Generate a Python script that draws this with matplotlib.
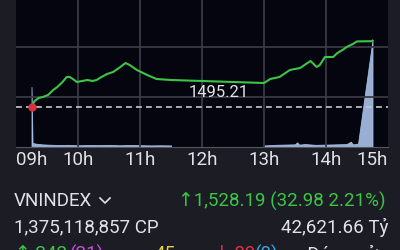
import matplotlib.pyplot as plt
from matplotlib.lines import Line2D

# index line (minutes after 09:00, points)
idx_min = [15, 18, 22, 26, 31, 36, 40, 45, 49, 52, 55, 59, 64, 69, 74, 78, 81, 88, 94,
           101, 106, 110, 117, 127, 136, 150, 240, 246, 255, 265, 275, 282, 285,
           291, 294, 299, 307, 311, 316, 320, 326, 330, 344, 345]
idx_val = [1495.21, 1498.0, 1499.5, 1500.0, 1501.0, 1503.5, 1505.0, 1507.5, 1510.0,
           1510.0, 1509.0, 1507.5, 1508.0, 1508.5, 1508.0, 1508.5, 1509.5, 1511.5,
           1512.5, 1515.0, 1517.0, 1516.0, 1513.5, 1511.0, 1509.0, 1508.5, 1507.0,
           1509.0, 1510.0, 1513.5, 1514.5, 1517.0, 1518.0, 1515.0, 1516.0, 1520.0,
           1520.0, 1522.0, 1523.5, 1525.0, 1526.5, 1527.8, 1527.9, 1528.19]
ref_value = 1495.21

# volume (million shares per minute)
vol_am_min = [15, 15, 16, 20, 25, 30, 40, 50, 60, 70, 80, 90, 100, 110, 120, 130, 140, 150, 150]
vol_am = [0, 45, 3.0, 2.4, 2.0, 1.8, 1.5, 1.6, 1.3, 1.5, 1.4, 1.6, 1.3, 1.5, 1.4, 1.2, 1.3, 1.2, 0]
vol_pm_min = [240, 240, 250, 260, 270, 272, 274, 280, 290, 300, 310, 320, 324, 326, 331, 345, 345]
vol_pm = [0, 1.2, 1.6, 1.8, 2.0, 3.5, 1.8, 2.2, 1.6, 1.8, 2.0, 2.2, 4.0, 2.0, 2.5, 80, 0]

hour_pos = [15, 60, 120, 180, 240, 300, 345]
hour_lbl = ['09h', '10h', '11h', '12h', '13h', '14h', '15h']

BG = '#1c1c25'
PLOT_BG = '#05050f'
GRID = '#3a3a44'
TXT = '#e2e2e6'
GREEN = '#3cc447'
FONT = ['Roboto', 'DejaVu Sans']

plt.rcParams['font.family'] = FONT

fig = plt.figure(figsize=(4, 2.5), dpi=100, facecolor=BG)
ax = fig.add_axes([16 / 400, 1 - 147 / 250, 372 / 400, 147 / 250])
ax.set_facecolor(PLOT_BG)
ax.set_xlim(0, 360)
ax.set_ylim(1475, 1548.5)

for x in [60, 120, 180, 240, 300]:
    ax.axvline(x, color=GRID, lw=1.3, zorder=0)
for y in [1500, 1525]:
    ax.axhline(y, color=GRID, lw=1.3, zorder=0)

# volume on its own scale
vax = ax.twinx()
vax.set_ylim(0, 80 * 147 / 107)
vax.fill_between(vol_am_min, vol_am, color='#a9c3ea', alpha=0.9, lw=0.6, zorder=1)
vax.fill_between(vol_pm_min, vol_pm, color='#a9c3ea', alpha=0.9, lw=0.6, zorder=1)
vax.set_yticks([])
for s in vax.spines.values():
    s.set_visible(False)

ax.set_zorder(vax.get_zorder() + 1)
ax.patch.set_visible(False)
vax.patch.set_visible(True)
vax.patch.set_facecolor(PLOT_BG)

ax.axhline(ref_value, color='#c8c8cc', lw=1.2, ls=(0, (3.5, 2.5)), zorder=2)
ax.plot(idx_min, idx_val, color=GREEN, lw=1.5, zorder=3)
ax.plot(idx_min[0], idx_val[0], 'o', color='#d8323c', ms=5, zorder=4)
ax.text(196, ref_value + 3.2, f'{ref_value:.2f}', color=TXT, fontsize=12,
        ha='center', va='bottom', zorder=5)

ax.set_yticks([])
ax.set_xticks(hour_pos)
ax.set_xticklabels(hour_lbl, color=TXT, fontsize=13.5)
ax.tick_params(axis='x', length=0, pad=3)
for s in ax.spines.values():
    s.set_visible(False)
ax.spines['bottom'].set_visible(True)
ax.spines['bottom'].set_color('#55555e')


def ftext(x, y, s, **kw):
    kw.setdefault('fontsize', 13.5)
    kw.setdefault('color', TXT)
    kw.setdefault('va', 'center')
    fig.text(x / 400, 1 - y / 250, s, **kw)


ftext(14, 201, 'VNINDEX')
fig.add_artist(Line2D([100 / 400, 105 / 400, 110 / 400],
                      [1 - 198 / 250, 1 - 203 / 250, 1 - 198 / 250],
                      color=TXT, lw=1.2))
ftext(386, 201, '↑1,528.19 (32.98 2.21%)', color=GREEN, ha='right')
ftext(14, 227, '1,375,118,857 CP')
ftext(388, 227, '42,621.66 Tỷ', ha='right')

ftext(15, 254, '↑ 242', color=GREEN)
ftext(70, 254, '(21)', color='#c24fd8')
ftext(155, 254, '45', color='#e6d23a')
ftext(214, 254, '↓ 89', color='#e0313f')
ftext(255, 254, '(0)', color='#3aa6e6')
ftext(388, 254, 'Đóng cửa', ha='right')

fig.savefig('out.png', dpi=100, facecolor=BG)
